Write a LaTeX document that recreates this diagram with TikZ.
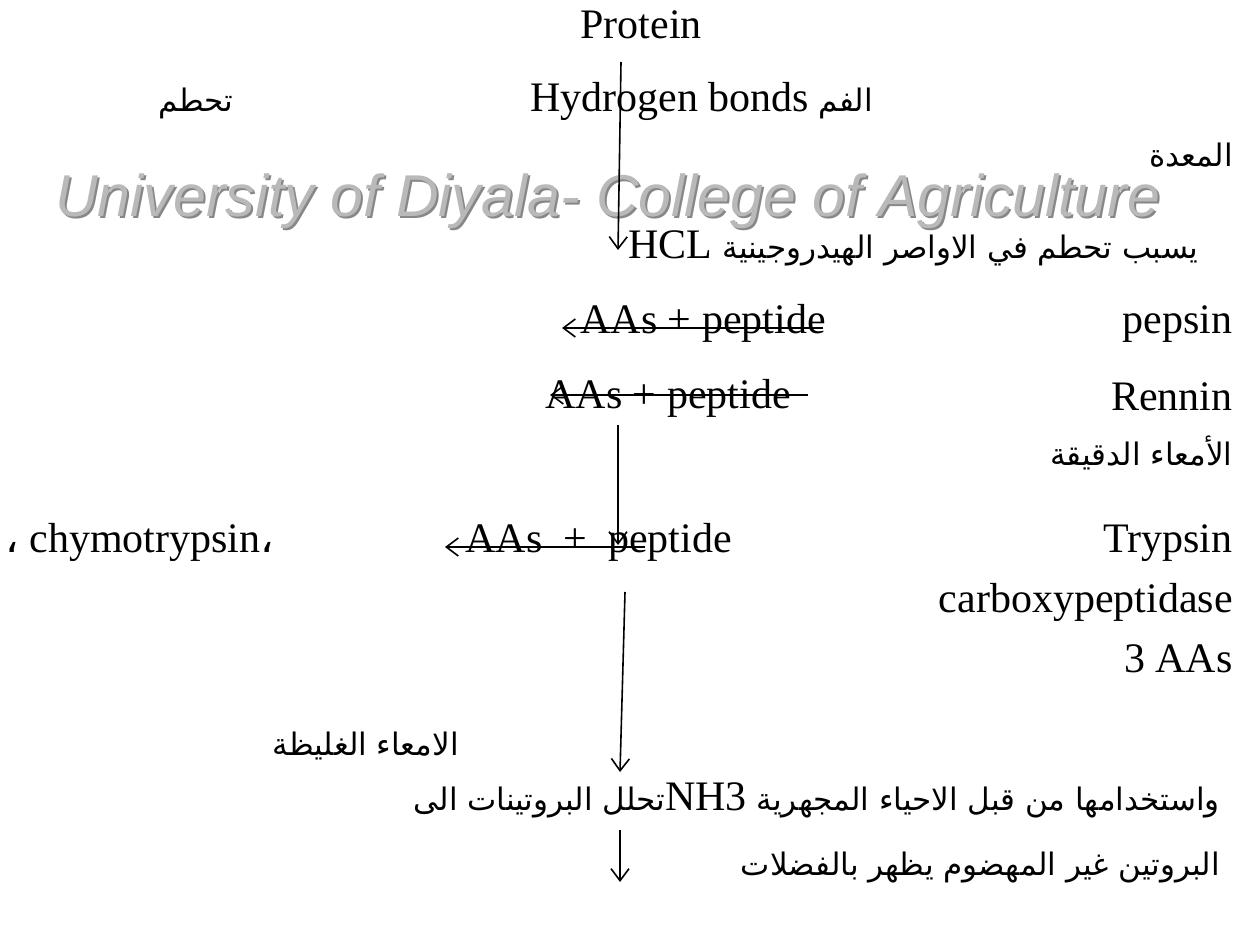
\documentclass[tikz,border=0pt]{standalone}
\usepackage{fontspec}
\setmainfont{Liberation Serif}
\newfontfamily\arabicfont[Script=Arabic]{DejaVu Sans}
\newfontfamily\markfont{Liberation Sans}
\TeXXeTstate=1
\usetikzlibrary{arrows.meta}
\definecolor{markgray}{RGB}{185,185,185}
\definecolor{markshadow}{RGB}{135,135,135}

\begin{document}
\begin{tikzpicture}[x=0.5pt,y=-0.5pt,
  txt/.style={inner sep=0pt,font=\fontsize{21}{25}\selectfont},
  artxt/.style={inner sep=0pt,font=\arabicfont\fontsize{15.5}{20}\selectfont},
  flow/.style={line width=0.8pt,-{Straight Barb[length=6pt,width=9pt,line width=0.8pt]}},
  wm/.style={inner sep=0pt,anchor=base west,font=\markfont\itshape\fontsize{29.5}{34}\selectfont}]
\useasboundingbox (0,0) rectangle (1247,931);
% watermark
\node[wm,text=markshadow] (markshade) at (57,218) {University of Diyala- College of Agriculture};
\node[wm,text=markgray] (mark) at (55,216) {University of Diyala- College of Agriculture};

% mouth
\node[txt,anchor=base] (protein) at (641,39) {Protein};
\node[artxt,anchor=base west] (breakdown) at (158,112) {\beginR تحطم\endR};
\node[txt,anchor=base west] (hbonds) at (530,112) {Hydrogen bonds};
\node[artxt,anchor=base west] (mouth) at (818,112) {\beginR الفم\endR};

% stomach
\node[artxt,anchor=base east] (stomach) at (1233,166) {\beginR المعدة\endR};
\node[txt,anchor=base west] (hcl) at (628,258) {HCL};
\node[artxt,anchor=base west] (hclnote) at (722,258) {\beginR يسبب تحطم في الاواصر الهيدروجينية\endR};
\node[txt,anchor=base west] (prodA) at (580,333) {AAs + peptide};
\node[txt,anchor=base east] (pepsin) at (1233,333) {pepsin};
\node[txt,anchor=base west] (prodB) at (545,408) {AAs + peptide};
\node[txt,anchor=base east] (rennin) at (1233,410) {Rennin};

% small intestine
\node[artxt,anchor=base east] (smallint) at (1233,465) {\beginR الأمعاء الدقيقة\endR};
\node[txt,anchor=base west] (chymo) at (5,552) {{\arabicfont ،} chymotrypsin{\arabicfont ،}};
\node[txt,anchor=base west] (prodC) at (465,552) {AAs\ \ +\ \ peptide};
\node[txt,anchor=base east] (trypsin) at (1233,552) {Trypsin};
\node[txt,anchor=base east] (carboxy) at (1233,612) {carboxypeptidase};
\node[txt,anchor=base east] (three) at (1233,672) {3 AAs};

% large intestine
\node[artxt,anchor=base west] (largeint) at (272,755) {\beginR الامعاء الغليظة\endR};
\node[artxt,anchor=base east] (nhthree) at (1220,810) {\beginR واستخدامها من قبل الاحياء المجهرية \beginL{\rmfamily\fontsize{21}{25}\selectfont NH3}\endL تحلل البروتينات الى\endR};
\node[artxt,anchor=base east] (waste) at (1220,875) {\beginR البروتين غير المهضوم يظهر بالفضلات\endR};

% arrows
\coordinate (a1s) at (621,62);   \coordinate (a1e) at (618,250);
\coordinate (a2s) at (823,328);  \coordinate (a2e) at (562,328);
\coordinate (a3s) at (808,395);  \coordinate (a3e) at (550,395);
\coordinate (a4s) at (618,425);  \coordinate (a4e) at (618,545);
\coordinate (a5s) at (645,547);  \coordinate (a5e) at (445,547);
\coordinate (a6s) at (625,592);  \coordinate (a6e) at (620,772);
\coordinate (a7s) at (620,830);  \coordinate (a7e) at (620,882);
\draw[flow] (a1s) -- (a1e);
\draw[flow] (a2s) -- (a2e);
\draw[flow] (a3s) -- (a3e);
\draw[flow] (a4s) -- (a4e);
\draw[flow] (a5s) -- (a5e);
\draw[flow] (a6s) -- (a6e);
\draw[flow] (a7s) -- (a7e);
\end{tikzpicture}
\end{document}
